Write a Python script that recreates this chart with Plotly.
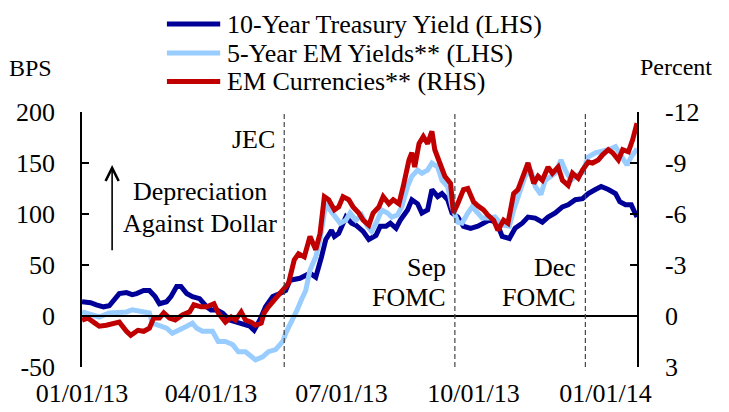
import plotly.graph_objects as go

# ---- data ----
ust_dates = ["2013-01-01", "2013-01-07", "2013-01-11", "2013-01-16", "2013-01-20", "2013-01-24", "2013-01-27",
             "2013-02-01", "2013-02-05", "2013-02-08", "2013-02-13", "2013-02-17", "2013-02-21", "2013-02-24",
             "2013-03-01", "2013-03-04", "2013-03-08", "2013-03-11", "2013-03-15", "2013-03-19", "2013-03-24",
             "2013-03-29", "2013-04-01", "2013-04-05", "2013-04-09", "2013-04-14", "2013-04-19", "2013-04-23",
             "2013-04-28", "2013-05-01", "2013-05-05", "2013-05-09", "2013-05-14", "2013-05-19", "2013-05-23",
             "2013-05-26", "2013-06-02", "2013-06-09", "2013-06-13", "2013-06-17", "2013-06-20", "2013-06-24",
             "2013-06-26", "2013-06-29", "2013-07-04", "2013-07-08", "2013-07-11", "2013-07-16", "2013-07-20",
             "2013-07-25", "2013-07-28", "2013-08-01", "2013-08-04", "2013-08-08", "2013-08-11", "2013-08-16",
             "2013-08-19", "2013-08-23", "2013-08-26", "2013-08-30", "2013-09-02", "2013-09-06", "2013-09-09",
             "2013-09-13", "2013-09-16", "2013-09-20", "2013-09-24", "2013-09-29", "2013-10-04", "2013-10-12",
             "2013-10-17", "2013-10-21", "2013-10-26", "2013-10-30", "2013-11-04", "2013-11-08", "2013-11-13",
             "2013-11-18", "2013-11-22", "2013-11-27", "2013-12-02", "2013-12-06", "2013-12-11", "2013-12-16",
             "2013-12-20", "2013-12-25", "2013-12-29", "2014-01-03", "2014-01-08", "2014-01-11", "2014-01-15",
             "2014-01-19", "2014-01-23"]
ust_bps = [14, 13, 11, 9, 10, 18, 22, 23, 21, 22, 25, 25, 19, 12, 14, 19, 29, 29, 22, 19, 17,
           9, 6, 6, 3, -4, -6, -7, -10, -14, -4, 9, 19, 22, 25, 35, 37, 42, 38, 58, 75, 84,
           78, 81, 97, 91, 89, 83, 75, 79, 88, 88, 91, 86, 94, 104, 114, 110, 101, 104, 124, 117, 120,
           114, 101, 97, 88, 86, 88, 94, 92, 78, 76, 86, 91, 97, 96, 92, 97, 101, 107, 109, 114, 115,
           120, 124, 127, 124, 120, 112, 109, 109, 97]

em_yld_dates = ["2013-01-01", "2013-01-13", "2013-01-20", "2013-01-27", "2013-02-01", "2013-02-05", "2013-02-12",
                "2013-02-17", "2013-02-19", "2013-02-24", "2013-03-01", "2013-03-05", "2013-03-10", "2013-03-15",
                "2013-03-19", "2013-03-22", "2013-03-26", "2013-04-02", "2013-04-06", "2013-04-11", "2013-04-16",
                "2013-04-20", "2013-04-25", "2013-04-30", "2013-05-02", "2013-05-07", "2013-05-11", "2013-05-16",
                "2013-05-21", "2013-05-23", "2013-05-28", "2013-05-31", "2013-06-03", "2013-06-06", "2013-06-09",
                "2013-06-13", "2013-06-16", "2013-06-20", "2013-06-23", "2013-06-27", "2013-06-30", "2013-07-04",
                "2013-07-07", "2013-07-11", "2013-07-15", "2013-07-19", "2013-07-22", "2013-07-26", "2013-07-29",
                "2013-08-02", "2013-08-05", "2013-08-09", "2013-08-12", "2013-08-16", "2013-08-19", "2013-08-23",
                "2013-08-26", "2013-08-30", "2013-09-02", "2013-09-06", "2013-09-09", "2013-09-13", "2013-09-16",
                "2013-09-20", "2013-09-23", "2013-09-27", "2013-09-30", "2013-10-04", "2013-10-07", "2013-10-12",
                "2013-10-16", "2013-10-21", "2013-10-26", "2013-10-29", "2013-11-02", "2013-11-06", "2013-11-10",
                "2013-11-13", "2013-11-17", "2013-11-20", "2013-11-24", "2013-11-27", "2013-12-01", "2013-12-04",
                "2013-12-08", "2013-12-11", "2013-12-16", "2013-12-20", "2013-12-25", "2013-12-29", "2014-01-03",
                "2014-01-08", "2014-01-12", "2014-01-16", "2014-01-19", "2014-01-23"]
em_yld_bps = [4, -1, 3, 4, 4, 6, 4, 3, -7, -9, -12, -17, -14, -10, -7, -12, -15, -15, -25, -25, -28,
              -35, -35, -40, -43, -40, -35, -33, -25, -17, -4, 6, 16, 25, 45, 58, 75, 110, 104, 97, 91, 94,
              101, 94, 99, 88, 83, 94, 104, 101, 97, 99, 107, 127, 137, 143, 140, 143, 150, 146, 133, 127, 107,
              92, 91, 101, 107, 101, 96, 96, 97, 89, 88, 104, 120, 137, 143, 127, 119, 133, 137, 140, 153, 143,
              133, 137, 141, 156, 160, 161, 163, 166, 156, 148, 156, 164]

em_fx_dates = ["2013-01-01", "2013-01-05", "2013-01-10", "2013-01-13", "2013-01-18", "2013-01-23", "2013-01-27",
               "2013-02-01", "2013-02-04", "2013-02-09", "2013-02-13", "2013-02-17", "2013-02-20", "2013-02-24",
               "2013-02-27", "2013-03-03", "2013-03-07", "2013-03-12", "2013-03-17", "2013-03-20", "2013-03-25",
               "2013-03-29", "2013-04-03", "2013-04-06", "2013-04-11", "2013-04-15", "2013-04-18", "2013-04-22",
               "2013-04-25", "2013-04-29", "2013-05-02", "2013-05-06", "2013-05-08", "2013-05-11", "2013-05-15",
               "2013-05-18", "2013-05-22", "2013-05-25", "2013-05-29", "2013-06-01", "2013-06-05", "2013-06-09",
               "2013-06-13", "2013-06-16", "2013-06-19", "2013-06-22", "2013-06-26", "2013-06-29", "2013-07-02",
               "2013-07-06", "2013-07-09", "2013-07-13", "2013-07-16", "2013-07-20", "2013-07-23", "2013-07-27",
               "2013-07-30", "2013-08-03", "2013-08-06", "2013-08-10", "2013-08-13", "2013-08-17", "2013-08-19",
               "2013-08-21", "2013-08-24", "2013-08-27", "2013-08-30", "2013-09-02", "2013-09-04", "2013-09-08",
               "2013-09-11", "2013-09-15", "2013-09-17", "2013-09-20", "2013-09-24", "2013-09-27", "2013-10-01",
               "2013-10-04", "2013-10-08", "2013-10-11", "2013-10-15", "2013-10-18", "2013-10-22", "2013-10-25",
               "2013-10-29", "2013-11-01", "2013-11-05", "2013-11-08", "2013-11-12", "2013-11-15", "2013-11-18",
               "2013-11-22", "2013-11-25", "2013-11-29", "2013-12-02", "2013-12-06", "2013-12-09", "2013-12-13",
               "2013-12-16", "2013-12-20", "2013-12-23", "2013-12-27", "2013-12-30", "2014-01-03", "2014-01-06",
               "2014-01-10", "2014-01-13", "2014-01-17", "2014-01-20", "2014-01-23"]
em_fx_pct = [0.24, 0.12, 0.42, 0.6, 0.54, 0.42, 0.36, 0.9, 1.14, 0.84, 0.9, 0.72, 0.12, 0.12, -0.18, 0.12,
             0.24, -0.06, -0.24, -0.66, -0.54, -0.54, -0.72, -0.18, 0.36, 0.06, 0.24, -0.24, 0.24, 0.36, 0.54,
             0.42, -0.18, -0.54, -0.96, -1.2, -1.62, -1.92, -3.3, -3.66, -3.48, -4.68, -3.9, -4.86, -7.02,
             -6.84, -6.24, -6.42, -7.02, -6.84, -6.42, -6.06, -5.64, -5.34, -6.06, -6.42, -7.02, -6.6, -6.84,
             -6.6, -7.62, -9.18, -9.6, -8.76, -10.14, -10.56, -10.14, -10.86, -9.78, -8.76, -8.22, -7.8, -6.06,
             -6.6, -7.44, -7.5, -6.72, -6.48, -6.24, -5.94, -5.64, -5.04, -5.64, -5.46, -7.2, -7.44, -8.4, -9.0,
             -7.8, -8.22, -7.98, -8.76, -8.4, -8.76, -7.98, -7.68, -8.4, -8.1, -8.58, -9.06, -9.0, -9.18, -9.48,
             -9.78, -9.6, -9.18, -9.78, -9.66, -10.38, -11.34]

event_dates = ["2013-05-22", "2013-09-18", "2013-12-18"]
x_tick_dates = ["2013-01-01", "2013-04-01", "2013-07-01", "2013-10-01", "2014-01-01"]
x_tick_text = ["01/01/13", "04/01/13", "07/01/13", "10/01/13", "01/01/14"]
lhs_ticks = [-50, 0, 50, 100, 150, 200]
rhs_ticks = [-12, -9, -6, -3, 0, 3]

series_names = ["10-Year Treasury Yield (LHS)", "5-Year EM Yields** (LHS)", "EM Currencies** (RHS)"]
series_colors = ["#000099", "#99CCFF", "#C00000"]

FONT = "Liberation Serif, Times New Roman, serif"
LHS_RANGE = [-50, 200]
RHS_RANGE = [3, -12]
X_RANGE = ["2013-01-01", "2014-01-23"]

fig = go.Figure()
fig.add_trace(go.Scatter(x=ust_dates, y=ust_bps, name=series_names[0], mode="lines",
                         line=dict(color=series_colors[0], width=5)))
fig.add_trace(go.Scatter(x=em_yld_dates, y=em_yld_bps, name=series_names[1], mode="lines",
                         line=dict(color=series_colors[1], width=5)))
fig.add_trace(go.Scatter(x=em_fx_dates, y=em_fx_pct, name=series_names[2], mode="lines", yaxis="y2",
                         line=dict(color=series_colors[2], width=5)))
# empty traces so the helper axes (zero line x2, inner right ticks y3) get drawn
fig.add_trace(go.Scatter(x=[], y=[], xaxis="x2", showlegend=False, hoverinfo="skip"))
fig.add_trace(go.Scatter(x=[], y=[], yaxis="y3", showlegend=False, hoverinfo="skip"))

# event markers
for d in event_dates:
    fig.add_shape(type="line", xref="x", yref="paper", x0=d, x1=d, y0=0, y1=1,
                  line=dict(color="#444444", width=1.2, dash="5px,3px"))

# hand-made legend (long line samples, tight rows like the original)
leg_rows = [1.345, 1.231, 1.12]
for name, color, yy in zip(series_names, series_colors, leg_rows):
    fig.add_shape(type="line", xref="paper", yref="paper", x0=0.153, x1=0.249, y0=yy, y1=yy,
                  line=dict(color=color, width=5))
    fig.add_annotation(xref="paper", yref="paper", x=0.2577, y=yy, text=name, showarrow=False,
                       xanchor="left", yanchor="middle", font=dict(size=26))

# axis titles
fig.add_annotation(xref="paper", yref="paper", x=-0.092, y=1.172, text="BPS", showarrow=False,
                   xanchor="center", yanchor="middle", font=dict(size=24))
fig.add_annotation(xref="paper", yref="paper", x=1.07, y=1.176, text="Percent", showarrow=False,
                   xanchor="center", yanchor="middle", font=dict(size=24))

# event labels
labels = [("JEC", event_dates[0], 173), ("Sep", event_dates[1], 48), ("FOMC", event_dates[1], 18),
          ("Dec", event_dates[2], 48), ("FOMC", event_dates[2], 18)]
for txt, d, yv in labels:
    fig.add_annotation(x=d, y=yv, text=txt, showarrow=False, xanchor="right", yanchor="middle",
                       xshift=-7, font=dict(size=26))

fig.add_annotation(x="2013-03-24", y=122, text="Depreciation", showarrow=False, font=dict(size=26))
fig.add_annotation(x="2013-03-24", y=91, text="Against Dollar", showarrow=False, font=dict(size=26))
fig.add_annotation(x="2013-01-22", y=148, ax="2013-01-22", ay=63, axref="x", ayref="y", text="",
                   showarrow=True, arrowhead=5, arrowsize=1.6, arrowwidth=1.6, arrowcolor="black")

axis_common = dict(showgrid=False, zeroline=False, linecolor="black", linewidth=1.5,
                   tickcolor="black", tickwidth=1.5, automargin=False)

# the page body has an 8px margin, so the figure is made 8px smaller to fit the window
fig.update_layout(
    width=721, height=404,
    margin=dict(l=74, r=92, t=104, b=45, autoexpand=False),
    paper_bgcolor="white", plot_bgcolor="white",
    font=dict(family=FONT, size=26, color="black"),
    showlegend=False,
    xaxis=dict(range=X_RANGE, tickvals=x_tick_dates, ticktext=x_tick_text, showline=False,
               ticks="", showgrid=False, zeroline=False, ticklabelstandoff=8, automargin=False),
    xaxis2=dict(overlaying="x", matches="x", anchor="free",
                position=(0 - LHS_RANGE[0]) / (LHS_RANGE[1] - LHS_RANGE[0]),
                showline=True, ticks="outside", ticklen=6, tickvals=x_tick_dates,
                showticklabels=False, **axis_common),
    yaxis=dict(range=LHS_RANGE, tickvals=lhs_ticks, ticktext=[str(v) for v in lhs_ticks],
               showline=True, ticks="inside", ticklen=7, ticklabelstandoff=20, **axis_common),
    yaxis2=dict(range=RHS_RANGE, overlaying="y", side="right", tickvals=rhs_ticks,
                ticktext=[str(v) for v in rhs_ticks], showline=True, ticks="outside", ticklen=21,
                showgrid=False, zeroline=False, linecolor="black", linewidth=1.5,
                tickcolor="rgba(0,0,0,0)", automargin=False),
    yaxis3=dict(range=RHS_RANGE, overlaying="y", side="right", tickvals=rhs_ticks,
                showticklabels=False, showline=False, ticks="inside", ticklen=7, **axis_common),
)

fig.write_html("out.html")
